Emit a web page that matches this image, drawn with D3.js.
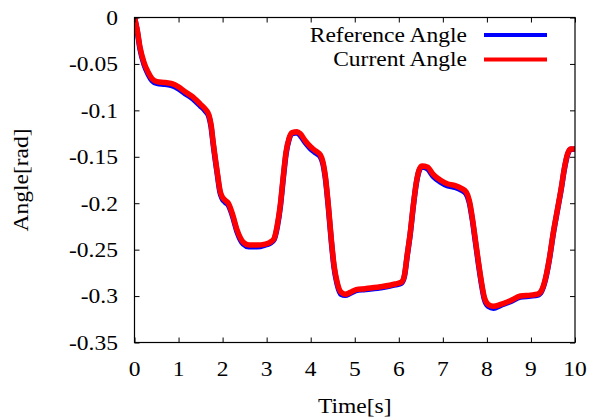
<!DOCTYPE html>
<html>
<head>
<meta charset="utf-8">
<script src="https://cdn.jsdelivr.net/npm/d3@7"></script>
<style>
  html, body { margin: 0; padding: 0; background: #fff; }
  svg { display: block; }
</style>
</head>
<body>
<script>
// Time samples [s]
const time = [0, 0.06, 0.125, 0.22, 0.31, 0.40, 0.51, 0.69, 0.85, 0.99, 1.15, 1.31, 1.49, 1.62, 1.69, 1.74, 1.78, 1.88, 1.94, 1.99,
  2.06, 2.13, 2.22, 2.33, 2.47, 2.60, 2.78, 2.97, 3.08, 3.17, 3.24, 3.31, 3.38, 3.44, 3.51, 3.58, 3.69, 3.76, 3.88, 3.99,
  4.12, 4.22, 4.28, 4.33, 4.40, 4.47, 4.53, 4.60, 4.69, 4.78, 4.90, 5.03, 5.24, 5.58, 5.92, 6.06, 6.13, 6.19, 6.26, 6.33,
  6.40, 6.47, 6.53, 6.65, 6.78, 6.94, 7.10, 7.28, 7.42, 7.53, 7.60, 7.67, 7.74, 7.81, 7.88, 7.94, 8.03, 8.15, 8.31, 8.53,
  8.76, 8.99, 9.15, 9.24, 9.33, 9.42, 9.51, 9.60, 9.69, 9.76, 9.83, 9.90, 10.0];

// Measured joint angle [rad]
const currentAngle = [0, -0.013, -0.032, -0.049, -0.059, -0.066, -0.069, -0.070, -0.0713, -0.0745, -0.080, -0.085, -0.093, -0.0994, -0.105, -0.116, -0.132, -0.167, -0.186, -0.193,
  -0.197, -0.200, -0.211, -0.229, -0.242, -0.245, -0.245, -0.244, -0.242, -0.238, -0.224, -0.202, -0.170, -0.145, -0.130, -0.124, -0.123, -0.125, -0.133, -0.139,
  -0.144, -0.148, -0.156, -0.170, -0.202, -0.240, -0.267, -0.285, -0.296, -0.298, -0.296, -0.293, -0.292, -0.290, -0.287, -0.285, -0.277, -0.256, -0.232, -0.202,
  -0.177, -0.163, -0.160, -0.161, -0.169, -0.175, -0.179, -0.181, -0.184, -0.188, -0.197, -0.216, -0.240, -0.264, -0.286, -0.301, -0.309, -0.311, -0.309, -0.305,
  -0.300, -0.299, -0.298, -0.294, -0.281, -0.259, -0.231, -0.207, -0.183, -0.162, -0.147, -0.1415, -0.1415];

// Commanded reference angle [rad]
const referenceAngle = [0, -0.014, -0.034, -0.051, -0.061, -0.068, -0.071, -0.072, -0.0733, -0.0765, -0.082, -0.087, -0.095, -0.1014, -0.107, -0.118, -0.134, -0.169, -0.188, -0.195,
  -0.199, -0.202, -0.213, -0.231, -0.244, -0.247, -0.247, -0.245, -0.243, -0.239, -0.226, -0.204, -0.172, -0.147, -0.131, -0.125, -0.124, -0.127, -0.135, -0.141,
  -0.146, -0.150, -0.158, -0.172, -0.204, -0.242, -0.269, -0.287, -0.298, -0.299, -0.297, -0.294, -0.293, -0.291, -0.288, -0.286, -0.278, -0.257, -0.233, -0.203,
  -0.178, -0.164, -0.161, -0.163, -0.171, -0.177, -0.181, -0.183, -0.186, -0.190, -0.199, -0.218, -0.242, -0.266, -0.288, -0.303, -0.311, -0.313, -0.310, -0.306,
  -0.301, -0.300, -0.299, -0.295, -0.282, -0.260, -0.232, -0.208, -0.184, -0.163, -0.148, -0.142, -0.142];

const xTicks = [0, 1, 2, 3, 4, 5, 6, 7, 8, 9, 10];
const yTicks = [0, -0.05, -0.1, -0.15, -0.2, -0.25, -0.3, -0.35];
const yTickLabels = ["0", "-0.05", "-0.1", "-0.15", "-0.2", "-0.25", "-0.3", "-0.35"];
const seriesNames = ["Reference Angle", "Current Angle"];
const seriesColors = ["#0000ff", "#ff0000"];

const W = 593, H = 419;
const m = { left: 134.5, right: 18, top: 17.5, bottom: 76.5 };
const FONT = "Liberation Serif";
const fontSize = 21;
const sx = 1.12; // wide serif lettering

const svg = d3.select("body").append("svg").attr("width", W).attr("height", H)
  .attr("font-family", FONT);

const x = d3.scaleLinear().domain([0, 10]).range([m.left, W - m.right]);
const y = d3.scaleLinear().domain([-0.35, 0]).range([H - m.bottom, m.top]);

// Text drawn with a horizontal stretch around its anchor point
function label(parent, px, py, str, anchor, rotate = 0, dy = "0") {
  const g = parent.append("g").attr("transform", `translate(${px},${py}) rotate(${rotate}) scale(${sx},1)`);
  g.append("text")
    .attr("text-anchor", anchor)
    .attr("dy", dy)
    .attr("font-family", FONT)
    .attr("font-size", fontSize)
    .attr("fill", "#000")
    .text(str);
  return g;
}

// Series lines (clipped to plot area)
svg.append("clipPath").attr("id", "plot-clip")
  .append("rect").attr("x", x(0)).attr("y", y(0)).attr("width", x(10) - x(0)).attr("height", y(-0.35) - y(0));

const line = d3.line().x(d => x(d[0])).y(d => y(d[1])).curve(d3.curveMonotoneX);
const series = [referenceAngle, currentAngle];
const gLines = svg.append("g").attr("clip-path", "url(#plot-clip)");
series.forEach((vals, i) => {
  gLines.append("path")
    .datum(time.map((t, k) => [t, vals[k]]))
    .attr("d", line)
    .attr("fill", "none")
    .attr("stroke", seriesColors[i])
    .attr("stroke-width", 5.5)
    .attr("stroke-linejoin", "round")
    .attr("stroke-linecap", "round");
});

// Axes: ticks inward on all four sides, labels drawn separately
const tickLen = 5;
const axB = svg.append("g").attr("transform", `translate(0,${y(-0.35)})`)
  .call(d3.axisBottom(x).tickValues(xTicks).tickSize(-tickLen).tickFormat(""));
const axT = svg.append("g").attr("transform", `translate(0,${y(0)})`)
  .call(d3.axisTop(x).tickValues(xTicks).tickSize(-tickLen).tickFormat(""));
const axL = svg.append("g").attr("transform", `translate(${x(0)},0)`)
  .call(d3.axisLeft(y).tickValues(yTicks).tickSize(-tickLen).tickFormat(""));
const axR = svg.append("g").attr("transform", `translate(${x(10)},0)`)
  .call(d3.axisRight(y).tickValues(yTicks).tickSize(-tickLen).tickFormat(""));
[axB, axT, axL, axR].forEach(g => {
  g.select(".domain").remove();
  g.selectAll(".tick line").attr("stroke", "#000").attr("stroke-width", 1);
});

const gLabels = svg.append("g");
xTicks.forEach(t => label(gLabels, x(t), 376, d3.format("d")(t), "middle"));
yTicks.forEach((v, i) => label(gLabels, 118, y(v), yTickLabels[i], "end", 0, "0.35em"));

// Frame
svg.append("rect")
  .attr("x", x(0)).attr("y", y(0))
  .attr("width", x(10) - x(0)).attr("height", y(-0.35) - y(0))
  .attr("fill", "none").attr("stroke", "#000").attr("stroke-width", 1.2);

// Axis titles
label(svg, (x(0) + x(10)) / 2, 413, "Time[s]", "middle");
label(svg, 28, (y(0) + y(-0.35)) / 2, "Angle[rad]", "middle", -90);

// Legend
seriesNames.forEach((name, i) => {
  const ly = 35 + i * 24.5;
  label(svg, 467, ly, name, "end", 0, "0.33em");
  svg.append("line")
    .attr("x1", 484).attr("x2", 547).attr("y1", ly).attr("y2", ly)
    .attr("stroke", seriesColors[i]).attr("stroke-width", 4);
});
</script>
</body>
</html>
